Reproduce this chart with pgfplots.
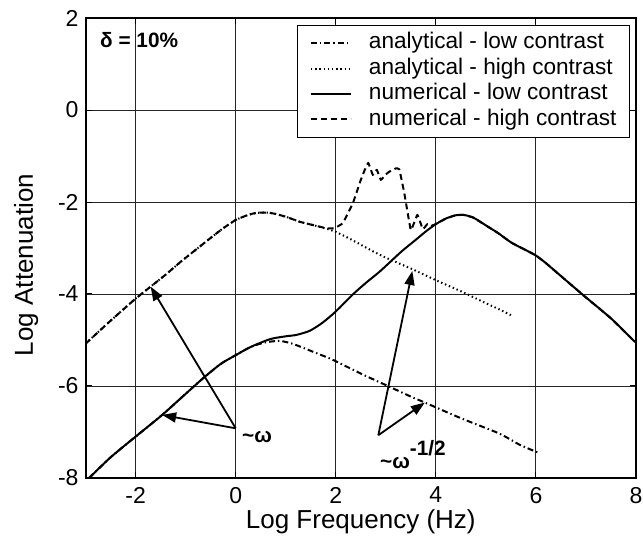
\documentclass[border=0pt]{standalone}
\usepackage{fontspec}
\setmainfont{Liberation Sans}
\usepackage{pgfplots}
\usepackage{pgfplotstable}
\pgfplotsset{compat=1.18}
\usetikzlibrary{arrows.meta}

% analytical solution, low contrast
\pgfplotstableread{
x y
-2.93 -8.00
-2.50 -7.55
-2.00 -7.10
-1.47 -6.63
-1.00 -6.17
-0.65 -5.83
-0.30 -5.52
0.00 -5.33
0.30 -5.15
0.60 -5.05
0.88 -5.02
1.10 -5.07
1.28 -5.14
1.60 -5.28
1.94 -5.43
2.50 -5.73
3.00 -5.98
3.50 -6.23
3.78 -6.36
4.50 -6.70
5.26 -7.03
5.68 -7.28
6.05 -7.45
}\anlow

% analytical solution, high contrast
\pgfplotstableread{
x y
-3.00 -5.08
-2.50 -4.58
-2.00 -4.10
-1.70 -3.84
-1.40 -3.58
-1.10 -3.30
-0.80 -3.04
-0.50 -2.78
-0.25 -2.57
0.00 -2.39
0.20 -2.30
0.35 -2.25
0.50 -2.23
0.65 -2.23
0.80 -2.26
1.00 -2.32
1.28 -2.43
1.50 -2.49
1.81 -2.58
2.00 -2.65
2.30 -2.81
2.67 -3.03
3.00 -3.21
3.53 -3.46
4.00 -3.70
4.50 -3.94
5.00 -4.20
5.26 -4.33
5.50 -4.46
}\anhigh

% numerical solution, low contrast
\pgfplotstableread{
x y
-2.93 -8.00
-2.50 -7.55
-2.00 -7.10
-1.47 -6.63
-1.00 -6.17
-0.65 -5.83
-0.30 -5.52
0.00 -5.33
0.30 -5.15
0.69 -4.98
1.00 -4.92
1.21 -4.89
1.48 -4.80
1.74 -4.62
2.00 -4.38
2.35 -4.00
2.60 -3.76
2.87 -3.52
3.10 -3.29
3.33 -3.06
3.60 -2.82
3.80 -2.64
4.00 -2.48
4.20 -2.36
4.39 -2.29
4.55 -2.28
4.75 -2.34
5.06 -2.55
5.25 -2.68
5.52 -2.89
5.98 -3.15
6.20 -3.33
6.50 -3.61
6.94 -4.02
7.50 -4.53
7.94 -5.00
8.00 -5.05
}\numlow

% numerical solution, high contrast
\pgfplotstableread{
x y
-3.00 -5.08
-2.50 -4.58
-2.00 -4.10
-1.70 -3.84
-1.40 -3.58
-1.10 -3.30
-0.80 -3.04
-0.50 -2.78
-0.25 -2.57
0.00 -2.39
0.20 -2.30
0.35 -2.25
0.50 -2.23
0.65 -2.23
0.80 -2.26
1.00 -2.32
1.28 -2.43
1.50 -2.49
1.81 -2.57
1.97 -2.57
2.14 -2.46
2.34 -2.03
2.50 -1.52
2.58 -1.30
2.65 -1.15
2.74 -1.41
2.82 -1.30
2.90 -1.52
3.00 -1.40
3.07 -1.34
3.20 -1.27
3.27 -1.29
3.37 -1.81
3.50 -2.61
3.63 -2.28
3.74 -2.59
3.83 -2.48
3.90 -2.52
4.00 -2.48
4.20 -2.36
4.39 -2.29
4.55 -2.28
4.75 -2.34
5.06 -2.55
5.25 -2.68
5.52 -2.89
5.98 -3.15
6.20 -3.33
6.50 -3.61
6.94 -4.02
7.50 -4.53
7.94 -5.00
8.00 -5.05
}\numhigh

\begin{document}
\begin{tikzpicture}
\path[use as bounding box] (-42.8pt,-31pt) rectangle (278.7pt,239pt);
\begin{axis}[
  scale only axis,
  width=275.2pt, height=230pt,
  xmin=-3, xmax=8, ymin=-8, ymax=2,
  xtick={-2,0,...,8}, ytick={-8,-6,...,2},
  grid=major,
  major grid style={black!85, line width=0.45pt},
  axis line style={line width=1pt},
  tick align=inside,
  major tick length=3pt,
  tick style={black, line width=0.5pt},
  /pgf/number format/assume math mode=true,
  tick label style={font=\fontsize{11.5}{13}\selectfont},
  xticklabel style={yshift=-1pt},
  xlabel={Log Frequency (Hz)},
  ylabel={Log Attenuation},
  label style={font=\fontsize{13}{15}\selectfont},
  xlabel style={at={(axis description cs:0.5,0)}, anchor=center, yshift=-22pt},
  ylabel style={at={(axis description cs:-0.108,0.463)}, anchor=center},
  legend image code/.code={\draw[#1] (0pt,0pt) -- (20pt,0pt);},
  legend cell align=left,
  legend style={
    at={(0.989,0.985)}, anchor=north east,
    draw=black, line width=0.5pt,
    font=\fontsize{11.3}{13}\selectfont,
    inner xsep=6pt, inner ysep=2.5pt,
    nodes={inner sep=0.5pt, text height=8.7pt, text depth=3pt},
    /tikz/every odd column/.append style={column sep=8pt},
  },
  every axis plot/.append style={black, line width=1pt, line join=round},
]
\addplot[smooth, tension=0.4, dash pattern=on 3pt off 1.5pt on 0.7pt off 1.5pt] table {\anlow};
\addlegendentry{analytical - low contrast}
\addplot[smooth, tension=0.4, dash pattern=on 0.7pt off 1.4pt] table {\anhigh};
\addlegendentry{analytical - high contrast}
\addplot[smooth, tension=0.4] table {\numlow};
\addlegendentry{numerical - low contrast}
\addplot[smooth, tension=0.15, dash pattern=on 3pt off 2pt] table {\numhigh};
\addlegendentry{numerical - high contrast}

\node[anchor=west, font=\bfseries\fontsize{10.4}{12}\selectfont] at (axis cs:-2.85,1.52) {δ = 10\%};

\draw[line width=0.9pt, -{Triangle[length=7pt,width=5pt]}] (axis cs:0,-6.92) -- (axis cs:-1.70,-3.84);
\draw[line width=0.9pt, -{Triangle[length=7pt,width=5pt]}] (axis cs:0,-6.92) -- (axis cs:-1.47,-6.63);
\draw[line width=0.9pt, -{Triangle[length=7pt,width=5pt]}] (axis cs:2.85,-7.07) -- (axis cs:3.53,-3.50);
\draw[line width=0.9pt, -{Triangle[length=7pt,width=5pt]}] (axis cs:2.85,-7.07) -- (axis cs:3.78,-6.36);

\node[anchor=west, inner sep=0pt, font=\bfseries\fontsize{10.4}{12}\selectfont] at (axis cs:0.12,-7.1) {\textasciitilde ω};
\node[anchor=west, inner sep=0pt, font=\bfseries\fontsize{10.4}{12}\selectfont] at (axis cs:2.88,-7.5) {\textasciitilde ω\raisebox{6.5pt}{-1/2}};
\end{axis}
\end{tikzpicture}
\end{document}
